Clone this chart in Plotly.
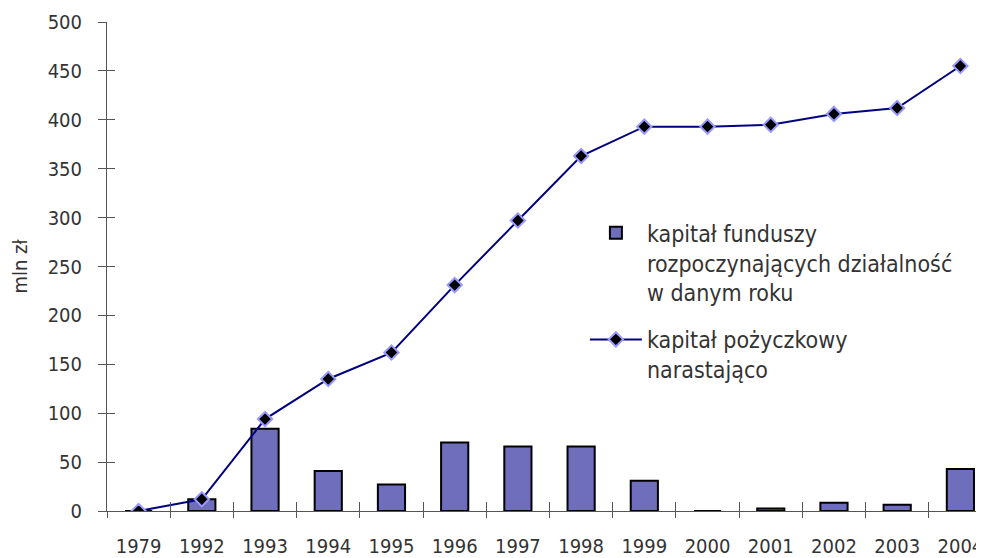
import plotly.graph_objects as go

years = ["1979", "1992", "1993", "1994", "1995", "1996", "1997",
         "1998", "1999", "2000", "2001", "2002", "2003", "2004"]
bar_values = [0, 12, 84, 41, 27, 70, 66, 66, 31, 0, 2.5, 8.5, 6.5, 43]
line_values = [0, 12, 94, 135, 162, 231, 297, 363, 393, 393, 395, 406, 412, 455]

bar_name = "kapitał funduszy<br>rozpoczynających działalność<br>w danym roku"
line_name = "kapitał pożyczkowy<br>narastająco"
y_title = "mln zł"

FONT = "DejaVu Sans Condensed, Liberation Sans Narrow, sans-serif"
AXC = "#555555"

fig = go.Figure()
fig.add_trace(go.Bar(
    x=years, y=bar_values, name=bar_name, width=0.43, legendgroup="bars",
    marker=dict(color="#6e6ebd", line=dict(color="#000000", width=2)),
))
fig.add_trace(go.Scatter(
    x=years, y=line_values, name=line_name, mode="lines+markers",
    legendgroup="line",
    line=dict(color="#000080", width=2),
    marker=dict(symbol="diamond", size=11, color="#000000",
                line=dict(color="#9999ff", width=2)),
))
# invisible helper trace to carry the overlay axes (inside tick marks)
fig.add_trace(go.Scatter(
    x=years, y=line_values, xaxis="x2", yaxis="y2", mode="markers",
    marker=dict(opacity=0), showlegend=False, hoverinfo="skip",
))

fig.update_layout(
    width=984, height=558,
    margin=dict(l=99, r=0, t=14, b=55),
    paper_bgcolor="white", plot_bgcolor="white",
    font=dict(family=FONT, size=20, color="#333333"),
    showlegend=True,
    legend=dict(x=0.540, y=0.613, xanchor="left", yanchor="top",
                bgcolor="rgba(0,0,0,0)", valign="top", itemwidth=52,
                traceorder="grouped", tracegroupgap=14,
                font=dict(size=23, color="#333333")),
    xaxis=dict(type="category", range=[-0.5, 13.5], showline=True,
               linecolor=AXC, linewidth=1, ticks="outside", ticklen=6,
               tickcolor=AXC, tickson="boundaries", showgrid=False,
               ticklabelstandoff=17, zeroline=False),
    yaxis=dict(range=[0, 500], dtick=50, showline=True, linecolor=AXC,
               linewidth=1, ticks="outside", ticklen=8, tickcolor=AXC,
               showgrid=False, zeroline=False, ticklabelstandoff=12,
               title=dict(text=y_title, standoff=23,
                          font=dict(size=20, color="#333333"))),
    xaxis2=dict(type="category", overlaying="x", anchor="y", range=[-0.5, 13.5],
                ticks="inside", ticklen=9, tickcolor=AXC, tickson="boundaries",
                showticklabels=False, showgrid=False, showline=False,
                zeroline=False, side="bottom", categoryarray=years,
                categoryorder="array"),
    yaxis2=dict(overlaying="y", anchor="x", range=[0, 500], dtick=50,
                ticks="inside", ticklen=8, tickcolor=AXC, showticklabels=False,
                showgrid=False, showline=False, zeroline=False, side="left"),
)

fig.write_html("out.html")
